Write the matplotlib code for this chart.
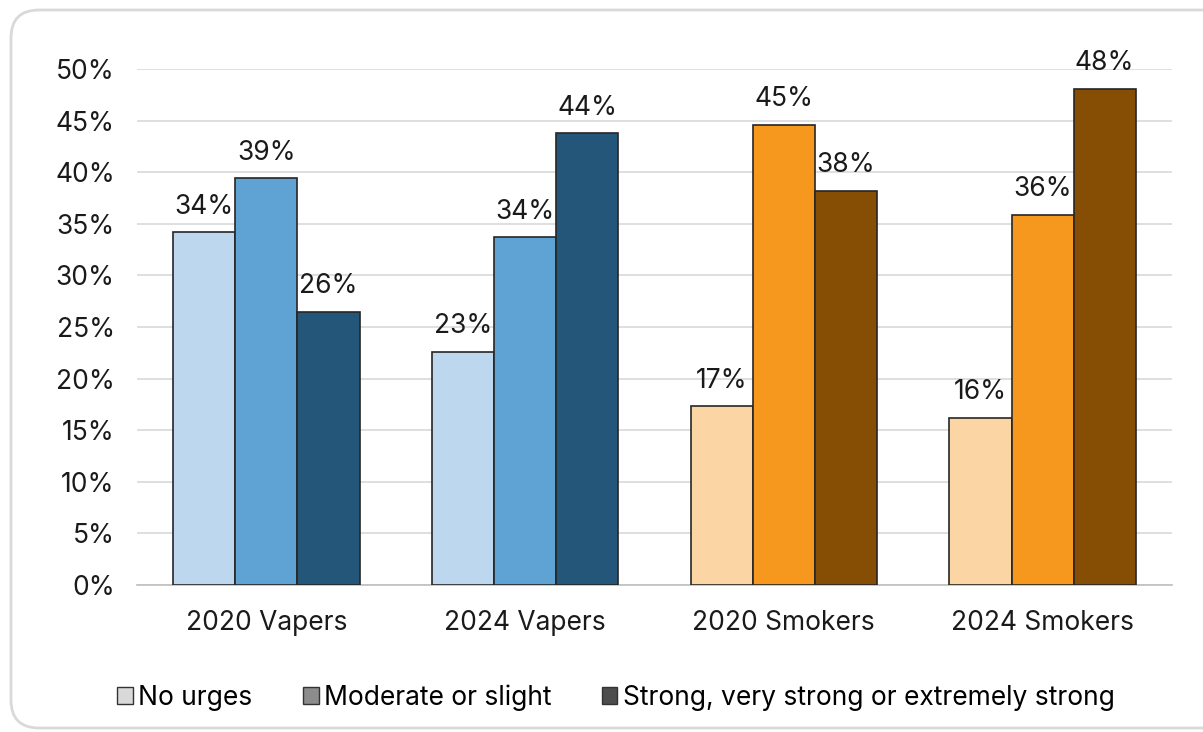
import matplotlib.pyplot as plt
import numpy as np
from matplotlib.patches import FancyBboxPatch, Patch

plt.rcParams['font.family'] = ['Inter', 'DejaVu Sans']

groups = ['2020 Vapers', '2024 Vapers', '2020 Smokers', '2024 Smokers']
series = ['No urges', 'Moderate or slight', 'Strong, very strong or extremely strong']
no_urges = [34.2, 22.6, 17.3, 16.2]
moderate = [39.4, 33.7, 44.6, 35.9]
strong = [26.5, 43.8, 38.2, 48.1]

# colours per group: vapers blue, smokers orange/brown
light = ['#BDD7EE', '#BDD7EE', '#FBD5A3', '#FBD5A3']
mid = ['#5FA3D4', '#5FA3D4', '#F7981E', '#F7981E']
dark = ['#245679', '#245679', '#864E05', '#864E05']

fig = plt.figure(figsize=(12.03, 7.32), dpi=100)
ax = fig.add_axes([0.1139, 0.2008, 0.8603, 0.7049])

x = np.arange(len(groups))
w = 0.24
for off, vals, cols in [(-w, no_urges, light), (0, moderate, mid), (w, strong, dark)]:
    bars = ax.bar(x + off, vals, w, color=cols, edgecolor='#262626', linewidth=1.2, zorder=3)
    for b, v in zip(bars, vals):
        ax.text(b.get_x() + b.get_width() / 2, v + 1.2, f'{v:.0f}%',
                ha='center', va='bottom', fontsize=19, color='#1a1a1a')

ax.set_xlim(-0.5, 3.5)
ax.set_ylim(0, 50)
ax.set_yticks(np.arange(0, 51, 5))
ax.set_yticklabels([f'{t}%' for t in range(0, 51, 5)])
ax.set_xticks(x)
ax.set_xticklabels(groups)
ax.tick_params(axis='both', length=0, labelsize=19, colors='#1a1a1a')
ax.tick_params(axis='y', pad=16)
ax.tick_params(axis='x', pad=18)
ax.yaxis.grid(True, color='#D9D9D9', linewidth=1.2, zorder=0)
for s in ['top', 'right', 'left']:
    ax.spines[s].set_visible(False)
ax.spines['bottom'].set_color('#BFBFBF')
ax.spines['bottom'].set_linewidth(1.2)

handles = [Patch(facecolor=c, edgecolor='#333333', linewidth=1.0)
           for c in ['#D9D9D9', '#8C8C8C', '#4D4D4D']]
fig.legend(handles, series, loc='center', bbox_to_anchor=(0.512, 0.047),
           ncol=3, frameon=False, fontsize=19, handlelength=0.6, handleheight=0.6,
           handletextpad=0.2, columnspacing=1.9)

# rounded frame, drawn in inches so the corners stay round
border = FancyBboxPatch((0.11, 0.04), 12.2, 7.18,
                        boxstyle='round,pad=0,rounding_size=0.28',
                        transform=fig.dpi_scale_trans, facecolor='none',
                        edgecolor='#D9D9D9', linewidth=2, clip_on=False)
fig.patches.append(border)

plt.savefig('out.png', dpi=100)
